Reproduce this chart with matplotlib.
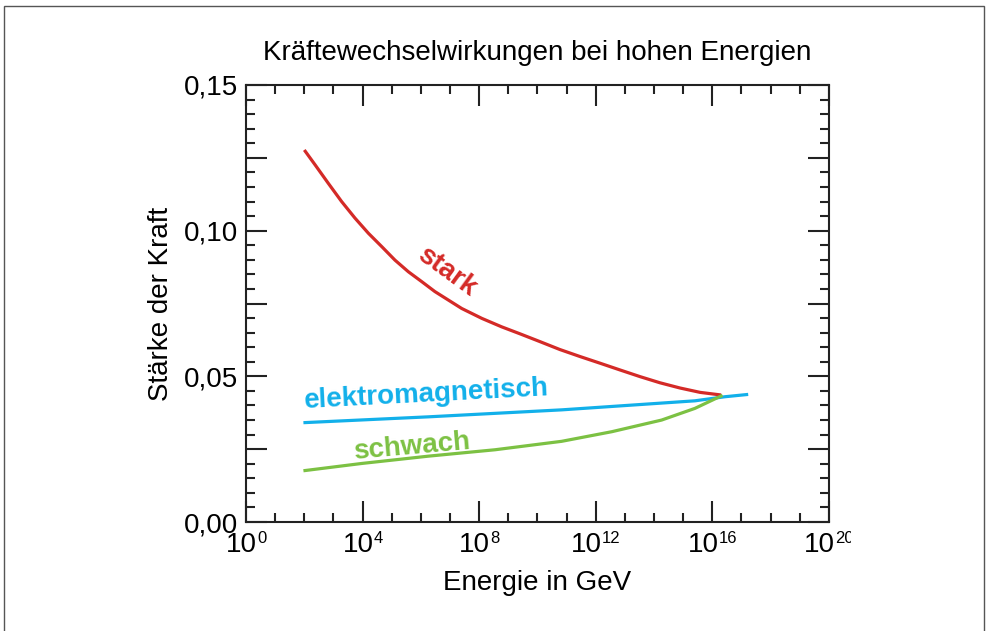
import numpy as np
import matplotlib
matplotlib.use('Agg')
import matplotlib.pyplot as plt
from matplotlib.ticker import FixedLocator, FuncFormatter, NullFormatter
from matplotlib.patches import Rectangle
from matplotlib.transforms import offset_copy

# Fonts
plt.rcParams['font.family'] = ['Liberation Sans', 'DejaVu Sans']

# Data (log10 of energy in GeV, coupling strength)
stark_logE = [2.00, 2.37, 2.82, 3.28, 3.74, 4.20, 4.66, 5.11, 5.57, 6.03, 6.48, 6.94, 7.40,
              8.09, 8.77, 9.40, 10.09, 10.77, 11.46, 12.15, 12.83, 13.52, 14.20, 14.89,
              15.58, 16.30]
stark_val = [0.1277, 0.1226, 0.1163, 0.1100, 0.1043, 0.0991, 0.0945, 0.0899, 0.0859, 0.0825,
             0.0791, 0.0762, 0.0733, 0.0699, 0.0670, 0.0646, 0.0619, 0.0592, 0.0568, 0.0545,
             0.0522, 0.0499, 0.0478, 0.0460, 0.0445, 0.0436]

em_logE = [1.97, 6.25, 10.83, 15.40, 16.43, 17.23]
em_val = [0.0341, 0.0361, 0.0385, 0.0416, 0.0430, 0.0438]

schwach_logE = [1.97, 3.97, 6.25, 8.54, 10.83, 12.55, 14.26, 15.40, 16.35]
schwach_val = [0.0176, 0.0201, 0.0226, 0.0248, 0.0277, 0.0310, 0.0350, 0.0390, 0.0435]

x_exponents = [0, 4, 8, 12, 16, 20]

red = '#d42a27'
blue = '#12b0ea'
green = '#7cc143'

fig = plt.figure(figsize=(9.88, 6.31), dpi=100)
ax = fig.add_axes([0.249, 0.1727, 0.590, 0.6926])

ax.plot(10.0 ** np.array(stark_logE), stark_val, color=red, linewidth=2.3, solid_capstyle='butt')
ax.plot(10.0 ** np.array(em_logE), em_val, color=blue, linewidth=2.3, solid_capstyle='butt')
ax.plot(10.0 ** np.array(schwach_logE), schwach_val, color=green, linewidth=2.3, solid_capstyle='butt')

# Curve labels
ax.text(10 ** 6.9, 0.0858, 'stark', color=red, fontsize=20, fontweight='bold',
        rotation=-36, rotation_mode='anchor', ha='center', va='center')
ax.text(10 ** 6.21, 0.0436, 'elektromagnetisch', color=blue, fontsize=20, fontweight='bold',
        rotation=3, rotation_mode='anchor', ha='center', va='center')
ax.text(10 ** 5.69, 0.0257, 'schwach', color=green, fontsize=20, fontweight='bold',
        rotation=5, rotation_mode='anchor', ha='center', va='center')

# Axes
ax.set_xscale('log')
ax.set_xlim(1, 1e20)
ax.set_ylim(0, 0.15)

ax.xaxis.set_major_locator(FixedLocator([10.0 ** k for k in x_exponents]))
ax.xaxis.set_minor_locator(FixedLocator([10.0 ** k for k in range(0, 21)]))
ax.xaxis.set_major_formatter(NullFormatter())
ax.xaxis.set_minor_formatter(NullFormatter())

ax.yaxis.set_major_locator(FixedLocator(np.arange(0, 0.1501, 0.025)))
ax.yaxis.set_minor_locator(FixedLocator(np.arange(0, 0.1501, 0.005)))


def yfmt(v, p):
    if abs(round(v / 0.05) * 0.05 - v) < 1e-6:
        return ('%.2f' % v).replace('.', ',')
    return ''


ax.yaxis.set_major_formatter(FuncFormatter(yfmt))

ax.tick_params(which='both', direction='in', top=True, right=True, width=1.5, color='#222222')
ax.tick_params(which='major', length=15)
ax.tick_params(which='minor', length=6.5)
ax.tick_params(axis='y', which='major', labelsize=20, pad=6)
for s in ax.spines.values():
    s.set_linewidth(1.5)
    s.set_color('#222222')

# x tick labels: "10" with a small raised exponent, whole label centred on the tick
base_tr = ax.get_xaxis_transform()
renderer = fig.canvas.get_renderer()
for k in x_exponents:
    t_base = ax.text(10.0 ** k, -0.0686, '10', transform=base_tr, fontsize=20,
                     ha='left', va='baseline', clip_on=False)
    t_exp = ax.text(10.0 ** k, -0.0470, str(k), transform=base_tr, fontsize=12,
                    ha='left', va='baseline', clip_on=False)
    w_base = t_base.get_window_extent(renderer).width
    w_exp = t_exp.get_window_extent(renderer).width
    total = w_base + w_exp
    t_base.set_transform(offset_copy(base_tr, fig=fig, x=-total / 2, y=0, units='dots'))
    t_exp.set_transform(offset_copy(base_tr, fig=fig, x=-total / 2 + w_base, y=0, units='dots'))

ax.set_xlabel('Energie in GeV', fontsize=20, labelpad=31)
ax.set_ylabel('Stärke der Kraft', fontsize=20, labelpad=7)
ax.set_title('Kräftewechselwirkungen bei hohen Energien', fontsize=20, pad=18)

# Hide the clipped part of the last tick label like the original
fig.patches.append(Rectangle((851 / 988, 1 - 572 / 631), 0.12, 50 / 631,
                             transform=fig.transFigure, facecolor='white',
                             edgecolor='none', zorder=10))
# Outer frame
fig.patches.append(Rectangle((4 / 988, -0.05), 980 / 988, 1.05 - 6 / 631,
                             transform=fig.transFigure, facecolor='none',
                             edgecolor='#555555', linewidth=1.0, zorder=11))

fig.savefig('out.png', dpi=100)
